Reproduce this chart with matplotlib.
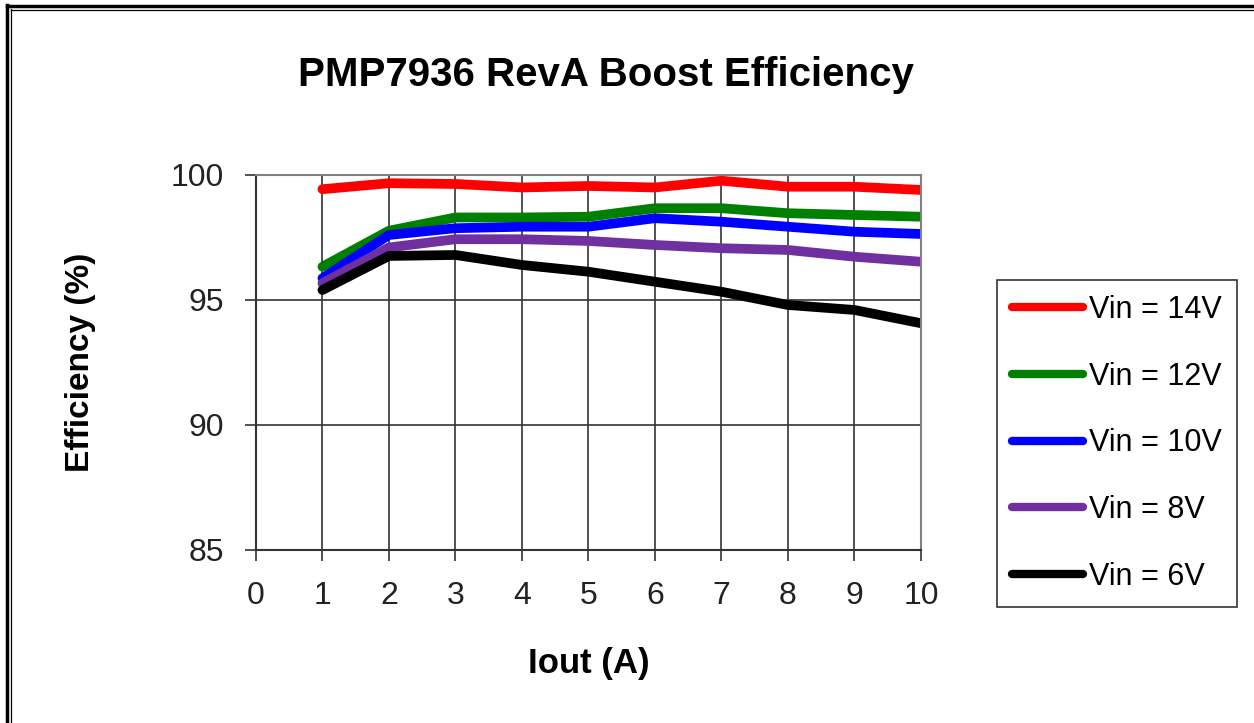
import matplotlib.pyplot as plt
import numpy as np
from matplotlib.lines import Line2D

plt.rcParams['font.family'] = ['Liberation Sans', 'DejaVu Sans']

# Data
iout = [1, 2, 3, 4, 5, 6, 7, 8, 9, 10]
eff_14v = [99.43, 99.67, 99.64, 99.50, 99.56, 99.50, 99.77, 99.53, 99.53, 99.40]
eff_12v = [96.33, 97.77, 98.30, 98.30, 98.33, 98.67, 98.67, 98.47, 98.40, 98.33]
eff_10v = [95.87, 97.60, 97.87, 97.93, 97.93, 98.27, 98.13, 97.93, 97.73, 97.64]
eff_8v = [95.67, 97.10, 97.43, 97.43, 97.36, 97.20, 97.07, 97.00, 96.73, 96.53]
eff_6v = [95.40, 96.76, 96.80, 96.40, 96.13, 95.73, 95.33, 94.80, 94.60, 94.07]

series = [eff_14v, eff_12v, eff_10v, eff_8v, eff_6v]
labels = ['Vin = 14V', 'Vin = 12V', 'Vin = 10V', 'Vin = 8V', 'Vin = 6V']
colors = ['#ff0000', '#008000', '#0000ff', '#7030a0', '#000000']

fig = plt.figure(figsize=(12.54, 7.23), dpi=100)
ax = fig.add_axes([0.2041, 0.2393, 0.5303, 0.5187])

for vals, lab, col in zip(series, labels, colors):
    ax.plot(iout, vals, color=col, lw=7, solid_capstyle='round',
            solid_joinstyle='round', label=lab)

ax.set_xlim(0, 10)
ax.set_ylim(85, 100)
ax.set_xticks(np.arange(0, 11, 1))
ax.set_yticks([85, 90, 95, 100])
ax.grid(True, color='#333333', lw=1.2)
ax.set_axisbelow(True)
for s in ['top', 'right']:
    ax.spines[s].set_color('#808080')
    ax.spines[s].set_linewidth(1.5)
for s in ['left', 'bottom']:
    ax.spines[s].set_color('#333333')
    ax.spines[s].set_linewidth(1.5)
ax.tick_params(direction='out', length=8, width=1.2, color='#333333',
               labelsize=23, labelcolor='#222222')
ax.tick_params(axis='y', pad=15)
ax.tick_params(axis='x', pad=14)

ax.set_title('PMP7936 RevA Boost Efficiency', fontsize=29, fontweight='bold',
             pad=64, x=0.526)
ax.set_xlabel('Iout (A)', fontsize=25, fontweight='bold', labelpad=26)
ax.set_ylabel('Efficiency (%)', fontsize=24, fontweight='bold', labelpad=54)

leg = fig.legend(loc='center', bbox_to_anchor=(0.8907, 0.3866), fontsize=22,
                 frameon=True, fancybox=False, edgecolor='black',
                 handlelength=2.3, handletextpad=0.2, labelspacing=1.2,
                 borderpad=0.5, borderaxespad=0)
leg.get_frame().set_linewidth(1.2)
for h in leg.get_lines():
    h.set_linewidth(6)

# double border on top and left edge
fig.add_artist(Line2D([7 / 1254, 7 / 1254], [0, 1 - 5 / 723], color='black', lw=2.5))
fig.add_artist(Line2D([10.5 / 1254, 10.5 / 1254], [0, 1 - 9 / 723], color='black', lw=0.9))
fig.add_artist(Line2D([7 / 1254, 1], [1 - 6 / 723, 1 - 6 / 723], color='black', lw=2.5))
fig.add_artist(Line2D([10.5 / 1254, 1], [1 - 9.5 / 723, 1 - 9.5 / 723], color='black', lw=0.9))

fig.savefig('out.png', dpi=100)
